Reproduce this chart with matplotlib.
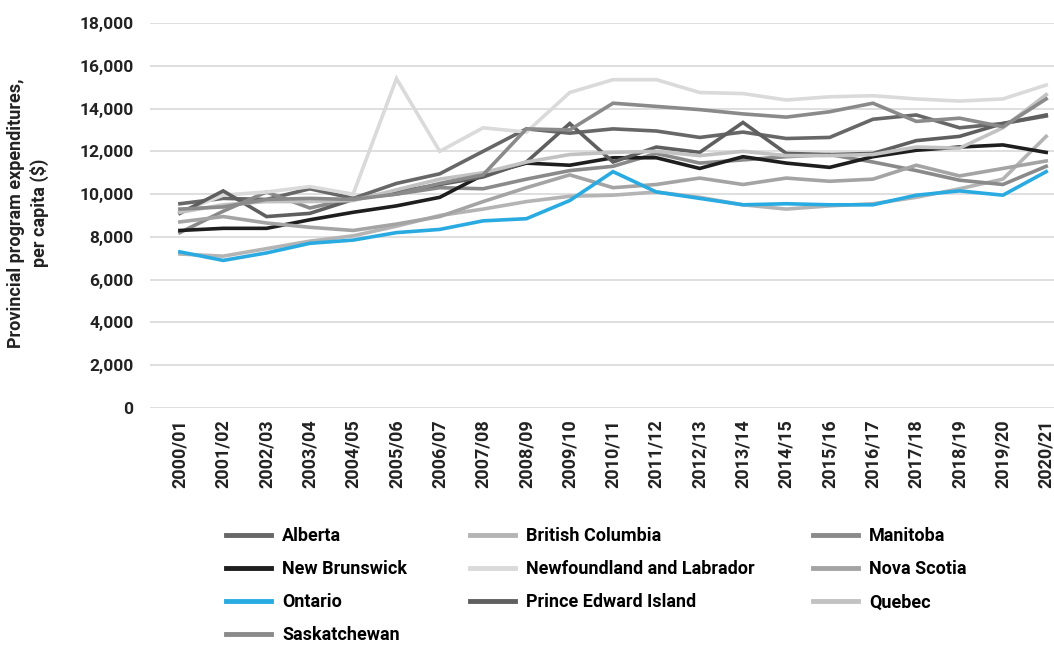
import numpy as np
import matplotlib
matplotlib.use('Agg')
import matplotlib.pyplot as plt
from matplotlib.lines import Line2D

plt.rcParams['font.family'] = ['Roboto', 'DejaVu Sans']

# Fiscal years on the x axis
years = ['2000/01', '2001/02', '2002/03', '2003/04', '2004/05', '2005/06',
         '2006/07', '2007/08', '2008/09', '2009/10', '2010/11', '2011/12',
         '2012/13', '2013/14', '2014/15', '2015/16', '2016/17', '2017/18',
         '2018/19', '2019/20', '2020/21']

# Per capita program expenditures ($)
alberta = [9550, 9800, 9750, 10250, 9800, 10500, 10950, 12000, 13050, 12850, 13050,
           12950, 12650, 12900, 12600, 12650, 13500, 13700, 13100, 13300, 13650]
british_columbia = [7200, 7100, 7450, 7800, 8050, 8500, 9000, 9300, 9650, 9900, 9950,
                    10100, 9850, 9500, 9300, 9450, 9550, 9850, 10250, 10700, 12700]
manitoba = [8200, 9200, 10100, 9350, 9800, 10000, 10300, 10250, 10700, 11100, 11300,
            11900, 11450, 11600, 11750, 11850, 11500, 11100, 10650, 10450, 11300]
new_brunswick = [8300, 8400, 8400, 8800, 9150, 9450, 9850, 10900, 11450, 11350, 11700,
                 11700, 11200, 11750, 11450, 11250, 11750, 12050, 12200, 12300, 11950]
newfoundland = [9150, 9950, 10100, 10350, 10000, 15400, 12000, 13100, 12900, 14750, 15350,
                15350, 14750, 14700, 14400, 14550, 14600, 14450, 14350, 14450, 15100]
nova_scotia = [8700, 8950, 8650, 8450, 8300, 8600, 8950, 9650, 10300, 10900, 10300,
               10450, 10750, 10450, 10750, 10600, 10700, 11350, 10850, 11200, 11550]
ontario = [7300, 6900, 7250, 7700, 7850, 8200, 8350, 8750, 8850, 9700, 11050,
           10100, 9800, 9500, 9550, 9500, 9500, 9950, 10150, 9950, 11050]
pei = [9100, 10150, 8950, 9100, 9750, 10100, 10450, 10800, 11500, 13300, 11500,
       12200, 11950, 13350, 11900, 11850, 11900, 12500, 12700, 13300, 13700]
quebec = [9150, 9500, 9650, 9650, 9700, 10200, 10700, 11000, 11500, 11850, 11950,
          12000, 11800, 12000, 11800, 11800, 11850, 12200, 12150, 13100, 14650]
saskatchewan = [9300, 9400, 9750, 9800, 9750, 10000, 10500, 10900, 13050, 13000, 14250,
                14100, 13950, 13750, 13600, 13850, 14250, 13400, 13550, 13150, 14450]

names = ['Alberta', 'British Columbia', 'Manitoba', 'New Brunswick',
         'Newfoundland and Labrador', 'Nova Scotia', 'Ontario',
         'Prince Edward Island', 'Quebec', 'Saskatchewan']
series = [alberta, british_columbia, manitoba, new_brunswick, newfoundland,
          nova_scotia, ontario, pei, quebec, saskatchewan]
colours = ['#676767', '#b4b4b4', '#8a8a8a', '#1e1e1e', '#dadada',
           '#a4a4a4', '#29abe2', '#5f5f5f', '#c2c2c2', '#8a8a8a']

fig = plt.figure(figsize=(10.54, 6.48), dpi=100)
ax = fig.add_axes([150/1054, 1 - 408/648, 1 - 150/1054, 385/648])

x = np.arange(len(years))
lines = {}
for name, vals, col in zip(names, series, colours):
    ln, = ax.plot(x, vals, color=col, lw=2.6, solid_joinstyle='miter', zorder=3)
    lines[name] = ln
# Ontario sits on top
lines['Ontario'].set_zorder(4)

# Axes styling
ax.set_ylim(0, 18000)
ax.set_xlim(-0.69, 20.18)
ax.set_yticks(np.arange(0, 18001, 2000))
ax.set_yticklabels(['{:,}'.format(v) for v in range(0, 18001, 2000)],
                   fontsize=12.5, fontweight='bold', color='#222222')
ax.set_xticks(x)
ax.set_xticklabels(years, rotation=90, fontsize=13, fontweight='bold',
                   color='#222222')
ax.tick_params(length=0, pad=8)
ax.tick_params(axis='y', pad=12)
ax.grid(axis='y', color='#d9d9d9', lw=1.2, zorder=0)
ax.set_axisbelow(True)
for s in ax.spines.values():
    s.set_visible(False)

fig.text(28/1054, 1 - 213/648, 'Provincial program expenditures,\nper capita ($)',
         rotation=90, ha='center', va='center', fontsize=13,
         fontweight='bold', color='#222222', linespacing=1.3)

# Legend, three columns placed by hand
cols = [['Alberta', 'New Brunswick', 'Ontario', 'Saskatchewan'],
        ['British Columbia', 'Newfoundland and Labrador', 'Prince Edward Island'],
        ['Manitoba', 'Nova Scotia', 'Quebec']]
col_x = [226, 470, 813]
for names_col, cx in zip(cols, col_x):
    handles = [Line2D([], [], color=lines[n].get_color(), lw=3.5) for n in names_col]
    fig.legend(handles, names_col, loc='upper left',
               bbox_to_anchor=(cx/1054, 1 - 527/648), frameon=False,
               prop={'size': 13, 'weight': 'bold'}, handlelength=2.5,
               handletextpad=0.62, labelspacing=0.84, borderpad=0, borderaxespad=0)

fig.savefig('out.png', dpi=100)
